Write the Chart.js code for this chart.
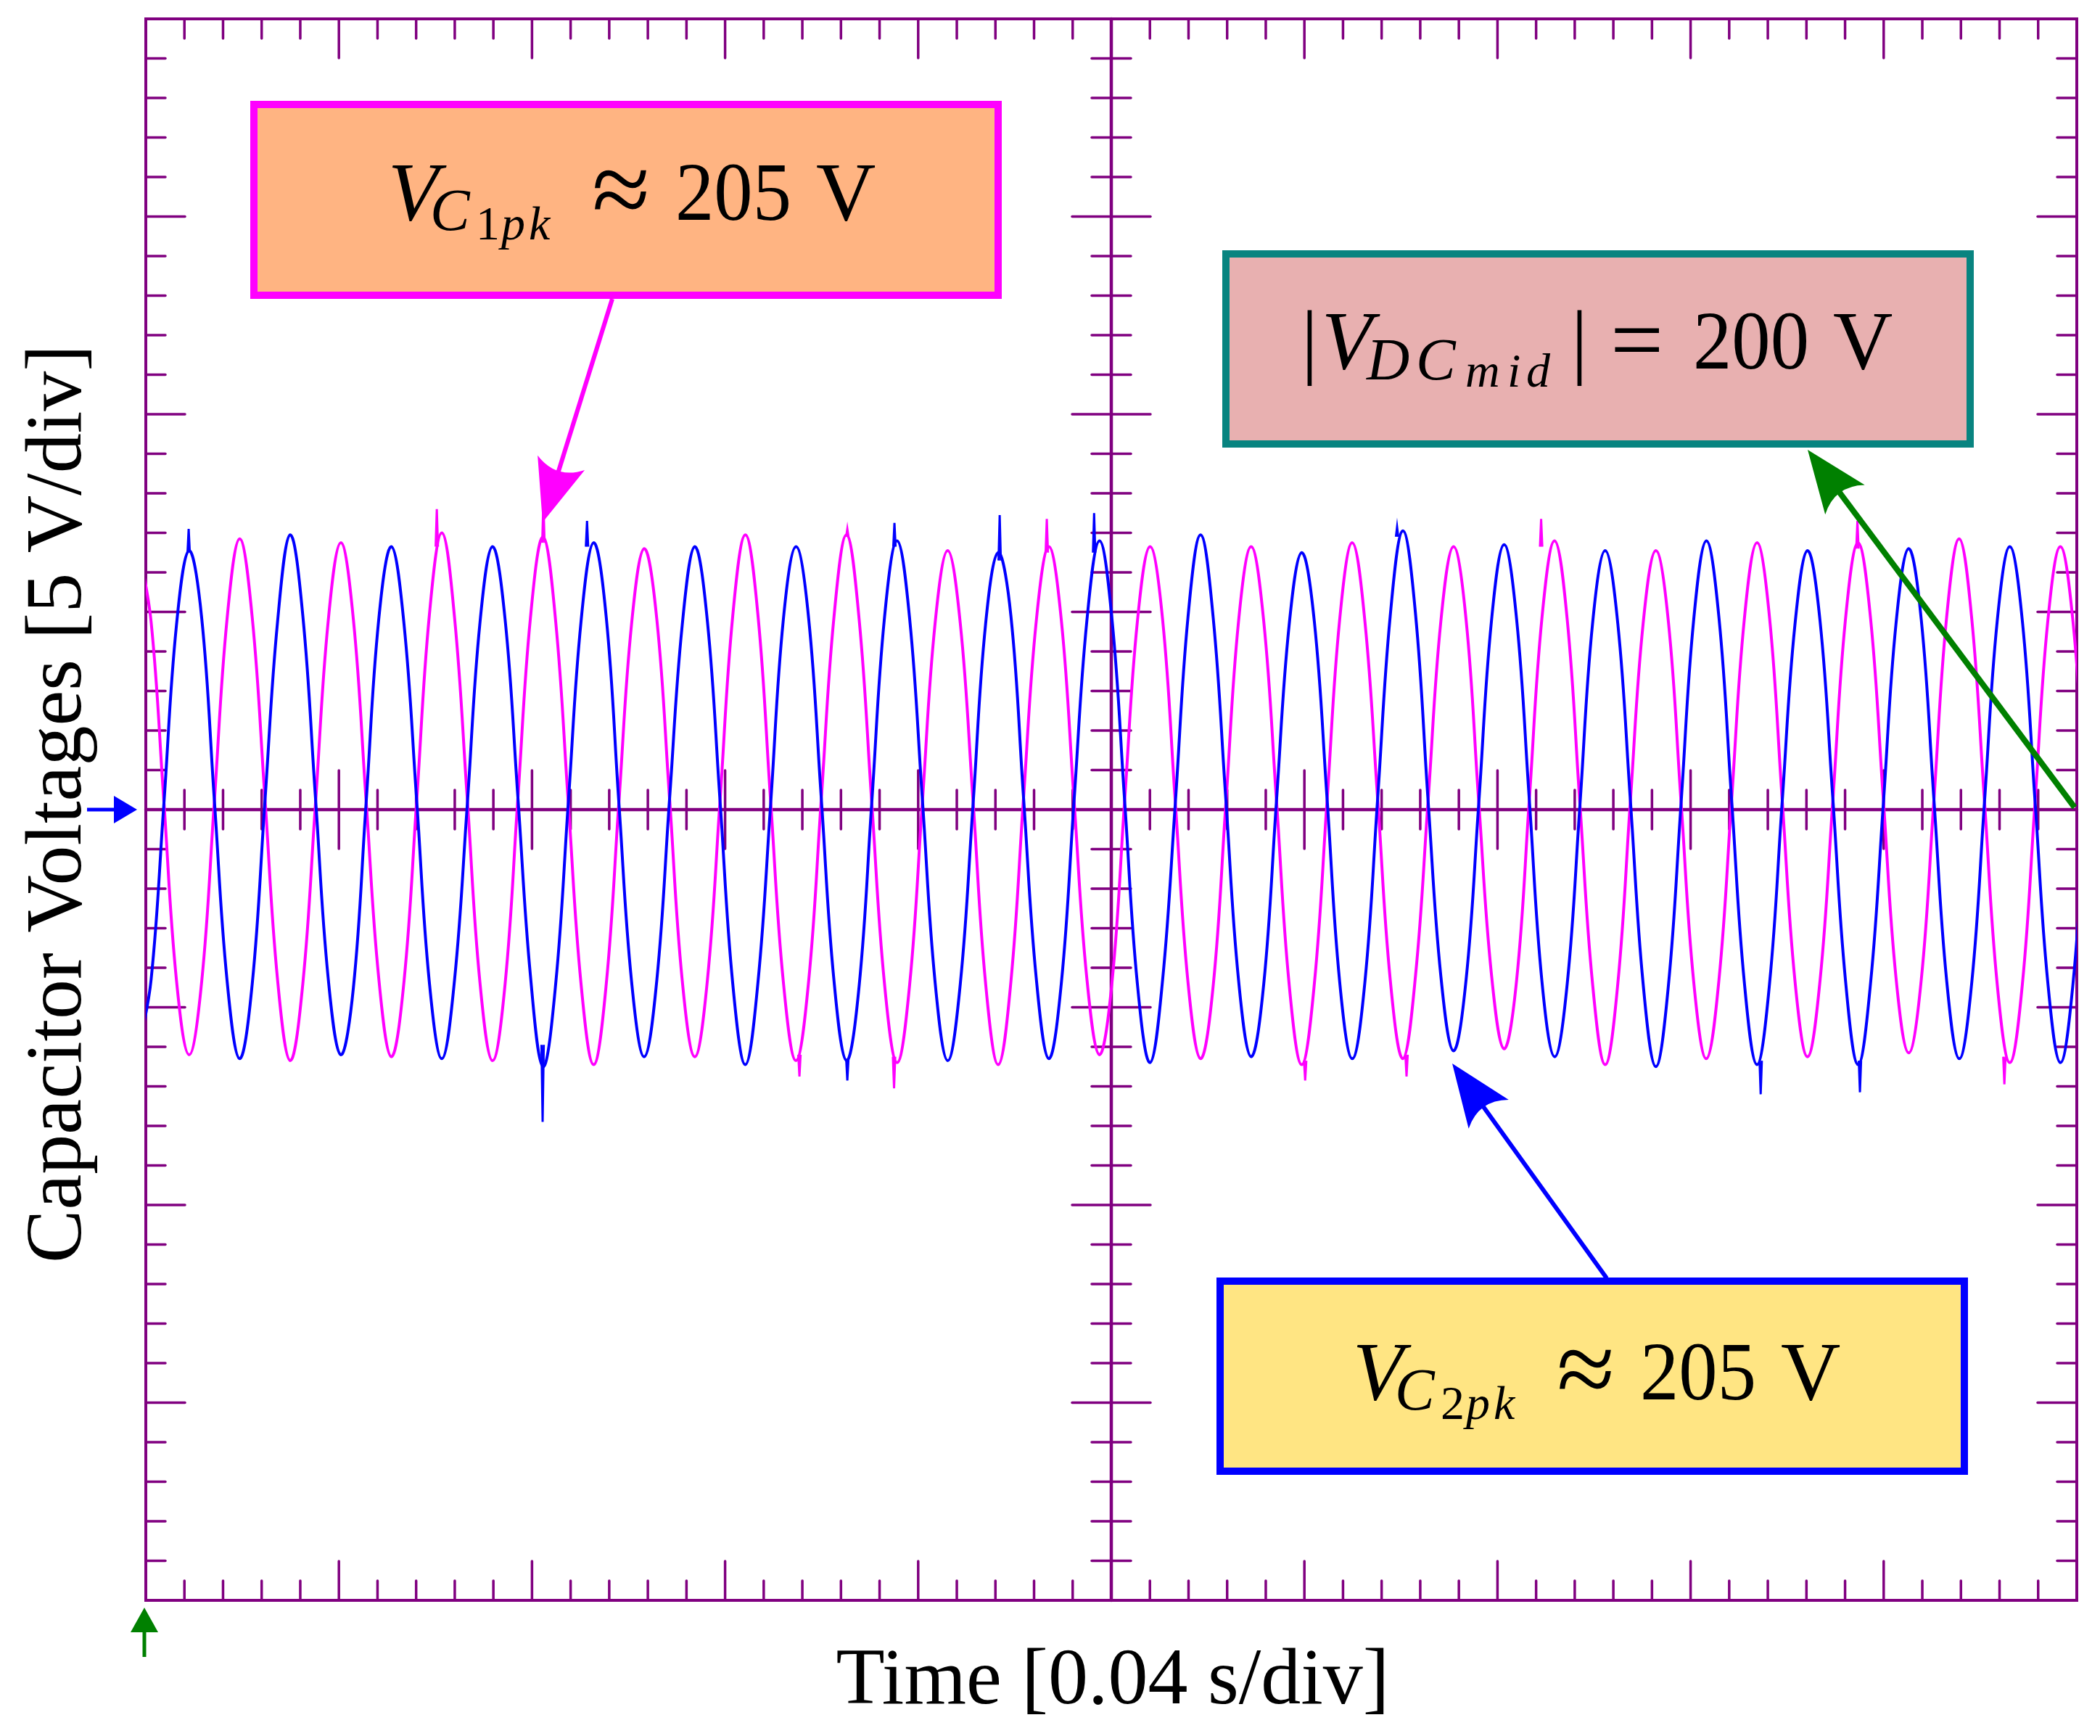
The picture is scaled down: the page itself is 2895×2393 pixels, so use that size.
<!DOCTYPE html>
<html>
<head>
<meta charset="utf-8">
<title>Capacitor Voltages</title>
<script src="https://cdn.jsdelivr.net/npm/chart.js@4.4.1/dist/chart.umd.min.js"></script>
<style>
  html, body { margin: 0; padding: 0; background: #fff; }
  canvas { display: block; }
</style>
</head>
<body>
<canvas id="scope" width="2895" height="2393" style="width:2895px;height:2393px"></canvas>
<script>
// screen is 10 x 8 divisions; time and voltage both in divisions
const xRange = [0, 10];      // 0.04 s/div
const yRange = [-4, 4];      // 5 V/div
const minorPerDiv = 5;

// one sample every 1/8 cycle, first sample just left of the screen
const sampleStart = -0.038;
const sampleStep = 0.06548;

// V_C1 (magenta trace) in divisions
const vC1 = [
  1.33, 0.95, 0.05, -0.86, -1.24, -0.87, 0.04, 0.96,
  1.37, 0.97, 0.06, -0.86, -1.27, -0.88, 0.03, 0.95,
  1.35, 0.96, 0.05, -0.85, -1.25, -0.87, 0.04, 0.98,
  1.40, 0.97, 0.06, -0.87, -1.27, -0.88, 0.05, 0.97,
  1.38, 0.95, 0.03, -0.88, -1.29, -0.88, 0.04, 0.94,
  1.32, 0.96, 0.06, -0.86, -1.25, -0.86, 0.05, 0.98,
  1.39, 0.98, 0.04, -0.87, -1.27, -0.87, 0.05, 0.97,
  1.39, 0.96, 0.03, -0.88, -1.28, -0.88, 0.04, 0.94,
  1.31, 0.94, 0.05, -0.88, -1.29, -0.87, 0.06, 0.95,
  1.33, 0.95, 0.04, -0.85, -1.24, -0.87, 0.05, 0.95,
  1.33, 0.96, 0.04, -0.87, -1.26, -0.89, 0.03, 0.95,
  1.33, 0.95, 0.05, -0.88, -1.29, -0.88, 0.04, 0.96,
  1.35, 0.95, 0.06, -0.86, -1.26, -0.84, 0.05, 0.95,
  1.33, 0.96, 0.04, -0.83, -1.21, -0.86, 0.05, 0.97,
  1.36, 0.96, 0.03, -0.88, -1.29, -0.88, 0.05, 0.94,
  1.31, 0.95, 0.04, -0.87, -1.26, -0.86, 0.05, 0.96,
  1.35, 0.97, 0.05, -0.86, -1.25, -0.86, 0.04, 0.96,
  1.35, 0.96, 0.05, -0.85, -1.23, -0.86, 0.05, 0.97,
  1.37, 0.96, 0.04, -0.88, -1.28, -0.88, 0.04, 0.95,
  1.33, 0.95, 0.05
];

// V_C2 (blue trace)
const vC2 = [
  -1.22, -0.86, 0.02, 0.93, 1.31, 0.97, 0.05, -0.86,
  -1.26, -0.88, 0.04, 0.95, 1.39, 0.98, 0.06, -0.85,
  -1.24, -0.90, 0.03, 0.96, 1.33, 0.94, 0.05, -0.87,
  -1.26, -0.86, 0.02, 0.94, 1.33, 0.96, 0.07, -0.84,
  -1.30, -0.88, 0.04, 0.95, 1.35, 0.97, 0.03, -0.87,
  -1.25, -0.86, 0.05, 0.93, 1.33, 0.95, 0.04, -0.88,
  -1.29, -0.87, 0.03, 0.96, 1.33, 0.97, 0.06, -0.86,
  -1.27, -0.89, 0.04, 0.97, 1.36, 0.96, 0.05, -0.87,
  -1.27, -0.88, 0.02, 0.94, 1.30, 0.98, 0.06, -0.85,
  -1.26, -0.87, 0.05, 0.95, 1.36, 0.96, 0.04, -0.88,
  -1.28, -0.86, 0.03, 0.97, 1.39, 0.97, 0.05, -0.86,
  -1.25, -0.88, 0.04, 0.93, 1.30, 0.95, 0.06, -0.87,
  -1.26, -0.87, 0.05, 0.98, 1.41, 0.99, 0.04, -0.84,
  -1.22, -0.86, 0.03, 0.95, 1.34, 0.96, 0.05, -0.87,
  -1.25, -0.88, 0.02, 0.94, 1.31, 0.94, 0.04, -0.88,
  -1.30, -0.89, 0.03, 0.96, 1.36, 0.97, 0.05, -0.87,
  -1.29, -0.88, 0.04, 0.93, 1.31, 0.95, 0.06, -0.86,
  -1.29, -0.87, 0.03, 0.94, 1.32, 0.96, 0.05, -0.86,
  -1.26, -0.87, 0.04, 0.95, 1.33, 0.95, 0.04, -0.87,
  -1.28, -0.88, 0.03
];

// noise spikes on the traces: time, level the spike leaves from, spike tip
const c1SpikeTime = [1.507, 2.059, 3.385, 3.633, 3.875, 4.666, 6.004, 6.529, 7.226, 8.864, 9.625];
const c1SpikeBase = [1.33, 1.35, -1.24, 1.38, -1.25, 1.30, -1.27, -1.24, 1.33, 1.32, -1.25];
const c1SpikeTip  = [1.52, 1.56, -1.35, 1.42, -1.41, 1.47, -1.37, -1.35, 1.47, 1.46, -1.39];

const c2SpikeTime = [0.222, 2.055, 2.285, 3.633, 3.877, 4.422, 4.911, 6.480, 8.363, 8.877];
const c2SpikeBase = [1.30, -1.19, 1.33, -1.26, 1.33, 1.26, 1.30, 1.38, -1.27, -1.27];
const c2SpikeTip  = [1.42, -1.58, 1.46, -1.37, 1.45, 1.49, 1.50, 1.43, -1.44, -1.43];

const PURPLE = "#800080";
const SERIF = '"Liberation Serif", "Times New Roman", serif';

function toPoints(values) {
  return values.map((v, i) => ({ x: sampleStart + i * sampleStep, y: v }));
}

function spikePoints(times, base, tip) {
  const pts = [];
  times.forEach((t, i) => {
    pts.push({ x: t - 0.006, y: base[i] }, { x: t, y: tip[i] }, { x: t + 0.006, y: base[i] }, { x: t + 0.007, y: null });
  });
  return pts;
}

function line(ctx, x0, y0, x1, y1) {
  ctx.beginPath();
  ctx.moveTo(x0, y0);
  ctx.lineTo(x1, y1);
  ctx.stroke();
}

function arrow(ctx, x0, y0, x1, y1, color, width) {
  const head = 86, half = 34;
  const dx = x1 - x0, dy = y1 - y0;
  const len = Math.hypot(dx, dy);
  const ux = dx / len, uy = dy / len;
  const bx = x1 - ux * head, by = y1 - uy * head;
  ctx.strokeStyle = color;
  ctx.fillStyle = color;
  ctx.lineWidth = width;
  ctx.lineCap = "butt";
  line(ctx, x0, y0, bx + ux * 20, by + uy * 20);
  ctx.beginPath();
  ctx.moveTo(x1, y1);
  ctx.lineTo(bx - uy * half, by + ux * half);
  ctx.quadraticCurveTo(x1 - ux * head * 0.72, y1 - uy * head * 0.72, bx + uy * half, by - ux * half);
  ctx.closePath();
  ctx.fill();
}

function box(ctx, left, top, right, bottom, fill, border) {
  ctx.fillStyle = fill;
  ctx.fillRect(left, top, right - left, bottom - top);
  ctx.strokeStyle = border;
  ctx.lineWidth = 10;
  ctx.strokeRect(left + 5, top + 5, right - left - 10, bottom - top - 10);
}

function writeMath(ctx, parts) {
  ctx.fillStyle = "#000";
  ctx.textAlign = "left";
  ctx.textBaseline = "alphabetic";
  parts.forEach(p => {
    ctx.font = p.f + " " + SERIF;
    if (p.w) ctx.fillText(p.t, p.x, p.y, p.w);
    else ctx.fillText(p.t, p.x, p.y);
  });
}

// V_{C_{n pk}} ≈ 205 V
function peakLabel(x0, y0, digit) {
  return [
    { t: "V", f: "italic 114px", x: x0, y: y0 },
    { t: "C", f: "italic 82px", x: x0 + 58, y: y0 + 14 },
    { t: digit, f: "66px", x: x0 + 121, y: y0 + 27 },
    { t: "p", f: "italic 66px", x: x0 + 156, y: y0 + 27 },
    { t: "k", f: "italic 66px", x: x0 + 194, y: y0 + 27 },
    { t: "\u2248", f: "146px", x: x0 + 281, y: y0 + 7 },
    { t: "205", f: "114px", x: x0 + 396, y: y0, w: 160 },
    { t: "V", f: "114px", x: x0 + 590, y: y0 }
  ];
}

const scopePlugin = {
  id: "scope",
  beforeDatasetsDraw(chart) {
    const { ctx, chartArea: a, scales: { x, y } } = chart;
    const cx = x.getPixelForValue(5), cy = y.getPixelForValue(0);
    ctx.save();
    ctx.strokeStyle = PURPLE;
    ctx.lineCap = "round";

    // centre cross
    ctx.lineWidth = 4.5;
    line(ctx, a.left, cy, a.right, cy);
    line(ctx, cx, a.top, cx, a.bottom);

    // time ticks
    ctx.lineWidth = 3.5;
    for (let i = 1; i < xRange[1] * minorPerDiv; i++) {
      const px = x.getPixelForValue(i / minorPerDiv);
      const len = i % minorPerDiv === 0 ? 54 : 27;
      line(ctx, px, a.top, px, a.top + len);
      line(ctx, px, a.bottom, px, a.bottom - len);
      line(ctx, px, cy - len, px, cy + len);
    }
    // voltage ticks
    for (let i = 1; i < (yRange[1] - yRange[0]) * minorPerDiv; i++) {
      const py = y.getPixelForValue(yRange[0] + i / minorPerDiv);
      const len = i % minorPerDiv === 0 ? 54 : 27;
      line(ctx, a.left, py, a.left + len, py);
      line(ctx, a.right, py, a.right - len, py);
      line(ctx, cx - len, py, cx + len, py);
    }
    // frame
    ctx.lineWidth = 4;
    ctx.lineCap = "butt";
    ctx.strokeRect(a.left, a.top, a.right - a.left, a.bottom - a.top);
    ctx.restore();
  },
  afterDatasetsDraw(chart) {
    const { ctx, chartArea: a, scales: { y } } = chart;
    const cy = y.getPixelForValue(0);
    ctx.save();

    // annotation arrows
    arrow(ctx, 844, 412, 748, 720, "#ff00ff", 6);
    arrow(ctx, 2215, 1762, 2002, 1466, "#0000ff", 6);
    arrow(ctx, 2860, 1113, 2492, 620, "#008000", 8);

    // annotation boxes
    box(ctx, 345, 139, 1381, 412, "#ffb482", "#ff00ff");
    writeMath(ctx, peakLabel(535, 303, "1"));

    box(ctx, 1685, 345, 2721, 617, "#e8b0b0", "#088480");
    writeMath(ctx, [
      { t: "|", f: "114px", x: 1794, y: 508 },
      { t: "V", f: "italic 114px", x: 1822, y: 508 },
      { t: "D", f: "italic 82px", x: 1884, y: 523 },
      { t: "C", f: "italic 82px", x: 1952, y: 523 },
      { t: "m", f: "italic 66px", x: 2020, y: 533 },
      { t: "i", f: "italic 66px", x: 2078, y: 533 },
      { t: "d", f: "italic 66px", x: 2104, y: 533 },
      { t: "|", f: "114px", x: 2166, y: 508 },
      { t: "=", f: "130px", x: 2220, y: 512 },
      { t: "200", f: "114px", x: 2334, y: 508, w: 160 },
      { t: "V", f: "114px", x: 2527, y: 508 }
    ]);

    box(ctx, 1677, 1761, 2713, 2033, "#ffe583", "#0000ff");
    writeMath(ctx, peakLabel(1865, 1929, "2"));

    // channel / trigger markers
    ctx.strokeStyle = "#0000ff";
    ctx.fillStyle = "#0000ff";
    ctx.lineWidth = 5;
    line(ctx, 120, cy, 160, cy);
    ctx.beginPath();
    ctx.moveTo(157, cy - 19);
    ctx.lineTo(189, cy);
    ctx.lineTo(157, cy + 19);
    ctx.closePath();
    ctx.fill();

    ctx.strokeStyle = "#008000";
    ctx.fillStyle = "#008000";
    line(ctx, a.left - 2, 2284, a.left - 2, 2246);
    ctx.beginPath();
    ctx.moveTo(a.left - 21, 2250);
    ctx.lineTo(a.left - 2, 2216);
    ctx.lineTo(a.left + 17, 2250);
    ctx.closePath();
    ctx.fill();

    // axis titles
    ctx.fillStyle = "#000";
    ctx.font = "110px " + SERIF;
    ctx.textAlign = "center";
    ctx.textBaseline = "alphabetic";
    ctx.fillText("Time [0.04 s/div]", 1534, 2348);
    ctx.translate(111, 1108);
    ctx.rotate(-Math.PI / 2);
    ctx.fillText("Capacitor Voltages [5 V/div]", 0, 0);
    ctx.restore();
  }
};

new Chart(document.getElementById("scope"), {
  type: "line",
  data: {
    datasets: [
      { label: "V_C2", data: toPoints(vC2), borderColor: "#0000ff", borderWidth: 4 },
      { label: "V_C2 spikes", data: spikePoints(c2SpikeTime, c2SpikeBase, c2SpikeTip),
        borderColor: "#0000ff", borderWidth: 3, tension: 0, spanGaps: false },
      { label: "V_C1", data: toPoints(vC1), borderColor: "#ff00ff", borderWidth: 4 },
      { label: "V_C1 spikes", data: spikePoints(c1SpikeTime, c1SpikeBase, c1SpikeTip),
        borderColor: "#ff00ff", borderWidth: 3, tension: 0, spanGaps: false }
    ]
  },
  options: {
    responsive: false,
    animation: false,
    devicePixelRatio: 1,
    layout: { padding: { left: 201, top: 26, right: 32, bottom: 187 } },
    elements: {
      point: { radius: 0 },
      line: { tension: 0.4, fill: false }
    },
    scales: {
      x: { type: "linear", min: xRange[0], max: xRange[1], display: false },
      y: { type: "linear", min: yRange[0], max: yRange[1], display: false }
    },
    plugins: { legend: { display: false }, tooltip: { enabled: false } }
  },
  plugins: [scopePlugin]
});
</script>
</body>
</html>
